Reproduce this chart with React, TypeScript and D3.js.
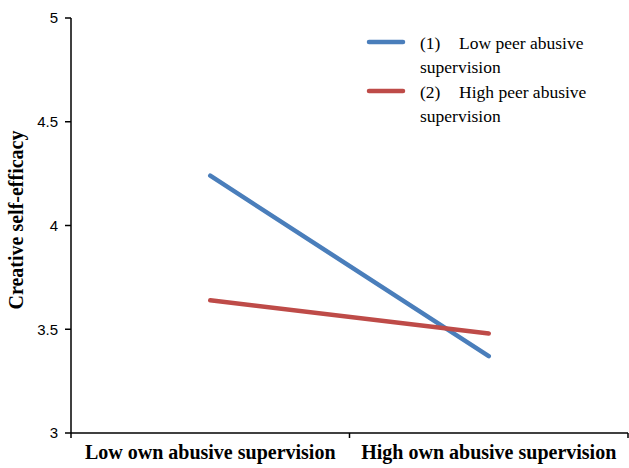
import React from 'react';
import * as d3 from 'd3';

const categories = ['Low own abusive supervision', 'High own abusive supervision'];
const lowPeer = [4.24, 3.37];
const highPeer = [3.64, 3.48];
const yTicks = [3, 3.5, 4, 4.5, 5];
const seriesNums = ['(1)', '(2)'];
const seriesNames = ['Low peer abusive', 'High peer abusive'];

const width = 629;
const height = 468;
const serif = "'Liberation Serif', 'Times New Roman', serif";

export default function App() {
  const x = d3.scaleBand().domain(categories).range([71, 628]);
  const y = d3.scaleLinear().domain([3, 5]).range([433, 18]);
  const line = d3.line<number>()
    .x((d, i) => (x(categories[i]) as number) + x.bandwidth() / 2)
    .y((d) => y(d));

  const series = [
    {num: seriesNums[0], name: seriesNames[0], values: lowPeer, color: '#4a7ebb'},
    {num: seriesNums[1], name: seriesNames[1], values: highPeer, color: '#be4b48'},
  ];

  return (
    <svg width={width} height={height} style={{position: 'absolute', left: 0, top: 0}}>
      <rect width={width} height={height} fill="white" />
      {/* y axis */}
      <line x1={71} x2={71} y1={y(5)} y2={y(3)} stroke="black" strokeWidth={1.5} />
      {yTicks.map((t) => (
        <g key={t}>
          <line x1={65} x2={71} y1={y(t)} y2={y(t)} stroke="black" strokeWidth={1.5} />
          <text x={58} y={y(t)} dy="0.35em" textAnchor="end"
            fontFamily="'Liberation Sans', Arial, sans-serif" fontSize={15}>{t}</text>
        </g>
      ))}
      {/* x axis */}
      <line x1={71} x2={628} y1={y(3)} y2={y(3)} stroke="black" strokeWidth={1.5} />
      {[...categories.map((c) => x(c) as number), 628].map((p, i) => (
        <line key={i} x1={p} x2={p} y1={y(3)} y2={y(3) + 5} stroke="black" strokeWidth={1.5} />
      ))}
      {categories.map((c) => (
        <text key={c} x={(x(c) as number) + x.bandwidth() / 2} y={459} textAnchor="middle"
          fontFamily={serif} fontWeight="bold" fontSize={20}>{c}</text>
      ))}
      <text transform={`translate(23, 220) rotate(-90)`} textAnchor="middle"
        fontFamily={serif} fontWeight="bold" fontSize={20}>
        Creative self-efficacy
      </text>
      {series.map((s) => (
        <path key={s.name} d={line(s.values) || ''} fill="none" stroke={s.color}
          strokeWidth={4.5} strokeLinecap="round" />
      ))}
      {/* legend */}
      {series.map((s, i) => (
        <g key={s.name} transform={`translate(0, ${i * 49})`}>
          <line x1={369} x2={403} y1={42} y2={42} stroke={s.color} strokeWidth={4.5} strokeLinecap="round" />
          <text x={420} y={49} fontFamily={serif} fontSize={17.5}>{s.num}</text>
          <text x={459} y={49} fontFamily={serif} fontSize={17.5}>{s.name}</text>
          <text x={420} y={73} fontFamily={serif} fontSize={17.5}>supervision</text>
        </g>
      ))}
    </svg>
  );
}
